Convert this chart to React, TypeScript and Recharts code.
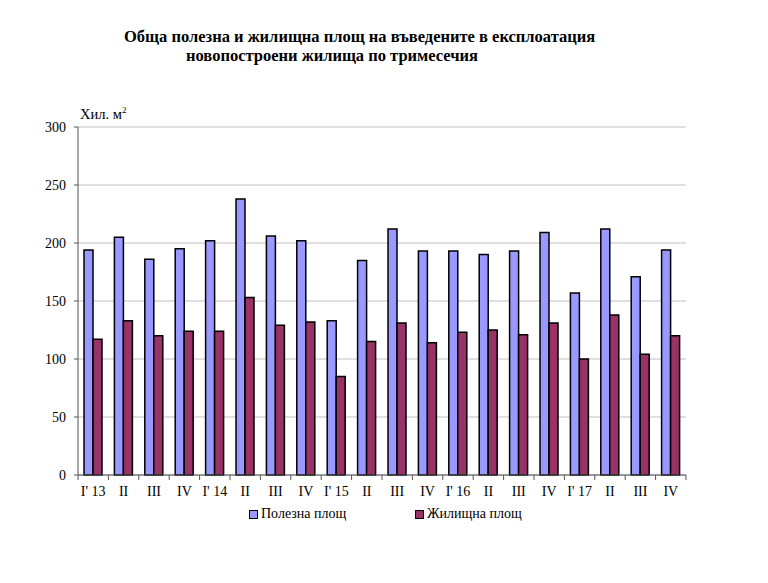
import { BarChart, Bar, XAxis, YAxis, CartesianGrid } from "recharts";

const quarters = ["I' 13", "II", "III", "IV", "I' 14", "II", "III", "IV", "I' 15", "II", "III", "IV", "I' 16", "II", "III", "IV", "I' 17", "II", "III", "IV"];
const usefulArea = [194, 205, 186, 195, 202, 238, 206, 202, 133, 185, 212, 193, 193, 190, 193, 209, 157, 212, 171, 194];
const livingArea = [117, 133, 120, 124, 124, 153, 129, 132, 85, 115, 131, 114, 123, 125, 121, 131, 100, 138, 104, 120];
const yTicks = [0, 50, 100, 150, 200, 250, 300];

const data = quarters.map((q, i) => ({ q, useful: usefulArea[i], living: livingArea[i] }));

const serif = "'Liberation Serif', 'Times New Roman', serif";
const BAND = 608 / quarters.length;

function QuarterTick(props: any) {
  const { x, y, payload, index } = props;
  const last = index === quarters.length - 1;
  return (
    <g>
      <line x1={x - BAND / 2} y1={y - 8} x2={x - BAND / 2} y2={y - 3} stroke="#555" />
      {last && <line x1={x + BAND / 2} y1={y - 8} x2={x + BAND / 2} y2={y - 3} stroke="#555" />}
      <text x={x} y={y + 13} textAnchor="middle" fontFamily={serif} fontSize={14} fill="#000">
        {payload.value}
      </text>
    </g>
  );
}

export default function App() {
  return (
    <div style={{ position: "absolute", left: 0, top: 0, width: 768, height: 583, background: "#fff", fontFamily: serif }}>
      <div style={{ position: "absolute", left: 124, top: 27, fontSize: 16.5, fontWeight: "bold", whiteSpace: "nowrap" }}>
        Обща полезна и жилищна площ на въведените в експлоатация
      </div>
      <div style={{ position: "absolute", left: 186, top: 46, fontSize: 16.5, fontWeight: "bold", whiteSpace: "nowrap" }}>
        новопостроени жилища по тримесечия
      </div>
      <div style={{ position: "absolute", left: 80, top: 105, fontSize: 14.5, whiteSpace: "nowrap" }}>
        Хил. м<sup style={{ fontSize: 9 }}>2</sup>
      </div>
      <BarChart
        width={768}
        height={583}
        data={data}
        margin={{ top: 127, right: 82, bottom: 78, left: 0 }}
        barGap={0}
        barCategoryGap={0}
      >
        <CartesianGrid vertical={false} stroke="#c0c0c0" />
        <XAxis
          dataKey="q"
          height={30}
          stroke="#555"
          tickLine={false}
          interval={0}
          tick={<QuarterTick />}
        />
        <YAxis
          width={78}
          domain={[0, 300]}
          ticks={yTicks}
          stroke="#555"
          tickSize={4}
          tickMargin={8}
          tick={{ fontFamily: serif, fontSize: 14, fill: "#000" }}
        />
        <Bar dataKey="useful" fill="#9999ff" stroke="#000" strokeWidth={1.5} barSize={9} isAnimationActive={false} />
        <Bar dataKey="living" fill="#993366" stroke="#000" strokeWidth={1.5} barSize={9} isAnimationActive={false} />
      </BarChart>
      <div style={{ position: "absolute", left: 249, top: 506, fontSize: 14, whiteSpace: "nowrap", display: "flex", alignItems: "center" }}>
        <span style={{ display: "inline-block", width: 7, height: 7, background: "#9999ff", border: "1px solid #000", marginRight: 3 }} />
        Полезна площ
      </div>
      <div style={{ position: "absolute", left: 415, top: 506, fontSize: 14, whiteSpace: "nowrap", display: "flex", alignItems: "center" }}>
        <span style={{ display: "inline-block", width: 7, height: 7, background: "#993366", border: "1px solid #000", marginRight: 3 }} />
        Жилищна площ
      </div>
    </div>
  );
}
